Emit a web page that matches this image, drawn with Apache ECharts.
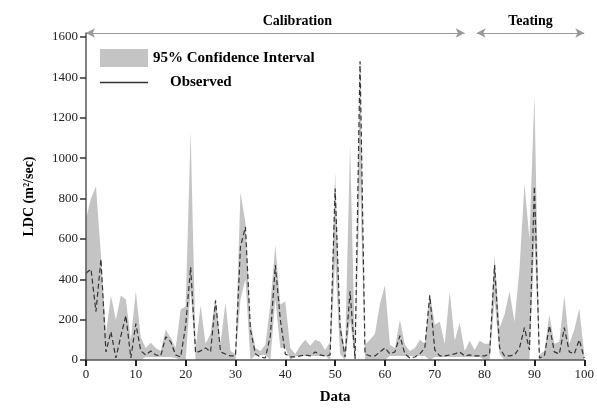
<!DOCTYPE html>
<html>
<head>
<meta charset="utf-8">
<script src="https://cdn.jsdelivr.net/npm/echarts@6/dist/echarts.min.js"></script>
<style>
  html, body { margin: 0; padding: 0; background: #fff; }
  #chart { width: 597px; height: 410px; }
</style>
</head>
<body>
<div id="chart"></div>
<script>
  // observed LDC and 95% band, one value per data point 0..100
  var observed = [430, 450, 240, 500, 40, 140, 10, 120, 220, 10,
    180, 45, 25, 45, 25, 20, 115, 90, 25, 15,
    170, 460, 35, 45, 60, 40, 295, 40, 30, 20,
    20, 560, 660, 150, 30, 15, 10, 120, 470, 200,
    30, 15, 15, 20, 25, 20, 40, 25, 20, 25,
    850, 160, 15, 340, 5, 1480, 30, 20, 20, 40,
    60, 30, 40, 120, 30, 10, 15, 30, 60, 320,
    50, 20, 20, 25, 30, 40, 20, 25, 20, 20,
    20, 30, 470, 60, 20, 20, 25, 60, 160, 50,
    860, 10, 20, 170, 40, 30, 160, 40, 30, 100, 10]
  var upper = [700, 800, 860, 520, 130, 320, 200, 320, 300, 100,
    340, 110, 60, 85, 60, 45, 150, 110, 60, 250,
    265, 1130, 60, 270, 80, 130, 310, 80, 285, 45,
    30, 830, 680, 190, 60, 45, 75, 275, 570, 275,
    290, 60, 30, 70, 100, 70, 100, 90, 50, 90,
    930, 200, 40, 1070, 20, 1490, 75, 100, 130, 280,
    370, 75, 60, 200, 75, 45, 60, 100, 80, 330,
    175, 190, 80, 340, 95, 185, 45, 95, 50, 95,
    80, 80, 520, 160, 225, 340, 190, 450, 875, 600,
    1310, 25, 45, 225, 80, 90, 320, 80, 150, 255, 30]
  var lower = [0, 0, 0, 0, 0, 0, 0, 0, 0, 0,
    0, 0, 15, 15, 15, 15, 15, 15, 10, 0,
    0, 350, 0, 0, 0, 0, 0, 0, 0, 0,
    0, 300, 400, 0, 25, 25, 25, 0, 300, 60,
    60, 0, 20, 20, 20, 20, 20, 20, 20, 0,
    500, 30, 0, 200, 0, 900, 0, 0, 0, 0,
    0, 20, 20, 20, 20, 20, 20, 20, 20, 0,
    15, 15, 15, 15, 15, 15, 15, 15, 15, 15,
    0, 0, 300, 30, 0, 0, 0, 0, 0, 0,
    600, 0, 0, 0, 0, 0, 0, 0, 0, 0, 0]
  var yTicks = [0, 200, 400, 600, 800, 1000, 1200, 1400, 1600]
  var periods = ['Calibration', 'Teating']

  var font = 'Liberation Serif'
  var bandColor = '#c4c4c4'
  var pts = function (arr) {
    return arr.map(function (v, i) { return [i, v] })
  }
  var legendText = {fontFamily: font, fontWeight: 'bold', fontSize: 15, color: '#000'}

  var chart = echarts.init(document.getElementById('chart'))
  chart.setOption({
    animation: false,
    textStyle: {fontFamily: font},
    grid: {left: 86, right: 11, top: 33, bottom: 48},
    legend: [
      {
        left: 95,
        top: 44,
        itemWidth: 48,
        itemHeight: 18,
        icon: 'rect',
        textStyle: legendText,
        data: ['95% Confidence Interval']
      },
      {
        left: 95,
        top: 70,
        itemWidth: 48,
        itemHeight: 1.3,
        icon: 'rect',
        textStyle: legendText,
        data: [{name: 'Observed', textStyle: {padding: [0, 0, 0, 17]}}]
      }
    ],
    xAxis: {
      type: 'value',
      min: 0,
      max: 100,
      interval: 10,
      z: 10,
      name: 'Data',
      nameLocation: 'middle',
      nameGap: 30,
      nameTextStyle: {fontFamily: font, fontWeight: 'bold', fontSize: 15, color: '#000'},
      axisLine: {lineStyle: {color: '#555', width: 1.5}},
      axisTick: {length: 6, lineStyle: {color: '#222', width: 2}},
      axisLabel: {fontFamily: font, fontSize: 13, color: '#222', margin: 8},
      splitLine: {show: false}
    },
    yAxis: {
      type: 'value',
      min: 0,
      max: 1620,
      interval: 200,
      z: 10,
      name: 'LDC (m\u00b2/sec)',
      nameLocation: 'middle',
      nameGap: 50,
      nameTextStyle: {fontFamily: font, fontWeight: 'bold', fontSize: 14, color: '#000'},
      axisLine: {show: true, lineStyle: {color: '#555', width: 1.5}},
      axisTick: {length: 6, lineStyle: {color: '#333', width: 1.5}, customValues: yTicks},
      axisLabel: {
        fontFamily: font, fontSize: 13, color: '#222', customValues: yTicks,
        formatter: function (v) { return String(v) }
      },
      splitLine: {show: false}
    },
    series: [
      {
        name: '95% Confidence Interval',
        type: 'line',
        data: pts(upper),
        symbol: 'none',
        z: 2,
        lineStyle: {width: 0},
        itemStyle: {color: bandColor},
        areaStyle: {color: bandColor, opacity: 1}
      },
      {
        // white fill under the lower bound cuts the band out
        name: 'lower',
        type: 'line',
        data: pts(lower),
        symbol: 'none',
        z: 3,
        silent: true,
        lineStyle: {width: 0},
        areaStyle: {color: '#fff', opacity: 1}
      },
      {
        name: 'Observed',
        type: 'line',
        data: pts(observed),
        symbol: 'none',
        z: 5,
        itemStyle: {color: '#333'},
        lineStyle: {color: '#333', width: 1.2, type: [5, 3]},
        markLine: {
          silent: true,
          symbol: ['arrow', 'arrow'],
          symbolSize: [7, 9],
          lineStyle: {color: '#999', width: 1.2, type: 'solid'},
          label: {
            show: true,
            position: 'insideMiddleTop',
            distance: 5,
            fontFamily: font,
            fontWeight: 'bold',
            fontSize: 14,
            color: '#000',
            formatter: function (p) { return p.name }
          },
          data: [
            [{name: periods[0], coord: [0, 1620], label: {padding: [0, 0, 0, 44]}}, {coord: [76, 1620]}],
            [{name: periods[1], coord: [78.4, 1620]}, {coord: [100, 1620]}]
          ]
        }
      }
    ]
  })
</script>
</body>
</html>
